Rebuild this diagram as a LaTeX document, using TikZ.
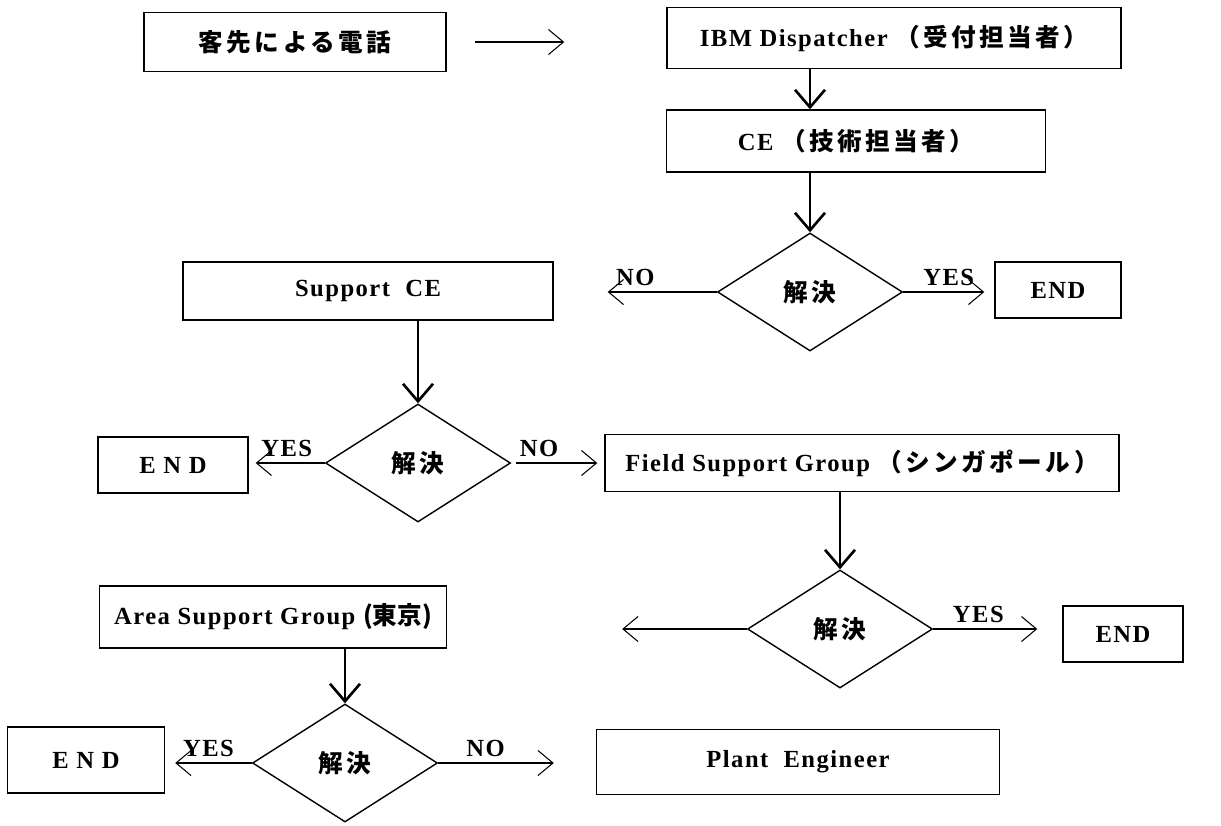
\documentclass[tikz,border=0pt]{standalone}
\usepackage{fontspec}
\setmainfont{Liberation Serif}[LetterSpace=6]
\newfontfamily\jp{Noto Sans CJK JP}[LetterSpace=14]
\usetikzlibrary{arrows.meta,shapes.geometric}

\begin{document}
\begin{tikzpicture}[
  font=\fontsize{14}{17}\selectfont\bfseries,
  box/.style={draw, thick, align=center, inner sep=2pt},
  dec/.style={draw, thick, diamond, minimum width=3.7cm, minimum height=2.36cm, inner sep=0pt},
  flow/.style={-{Straight Barb[length=3.5mm,width=6mm]}, line width=1.5pt},
  side/.style={-{Straight Barb[length=3mm,width=5mm]}, semithick}
]
\fill[white] (0,0) rectangle (24.42,-16.5);

\node[box, minimum width=6.04cm, minimum height=1.18cm] (call) at (5.90,-0.84) {\jp 客先による電話};
\node[box, minimum width=9.08cm, minimum height=1.22cm] (disp) at (17.88,-0.76) {IBM Dispatcher {\jp （受付担当者）}};
\node[box, minimum width=7.58cm, minimum height=1.24cm] (ce) at (17.12,-2.82) {CE {\jp （技術担当者）}};

\node[dec] (d1) at (16.20,-5.84) {\jp 解決};
\node[box, minimum width=2.52cm, minimum height=1.12cm] (end1) at (21.16,-5.80) {END};
\node[box, minimum width=7.40cm, minimum height=1.16cm] (sce) at (7.36,-5.82) {Support~~CE};

\node[dec] (d2) at (8.36,-9.26) {\jp 解決};
\node[box, minimum width=3.00cm, minimum height=1.12cm] (end2) at (3.46,-9.30) {E N D};
\node[box, minimum width=10.28cm, minimum height=1.14cm] (fsg) at (17.24,-9.26) {Field Support Group {\jp （シンガポール）}};

\node[dec] (d3) at (16.80,-12.58) {\jp 解決};
\node[box, minimum width=2.40cm, minimum height=1.12cm] (end3) at (22.46,-12.68) {END};
\node[box, minimum width=6.94cm, minimum height=1.24cm] (asg) at (5.46,-12.34) {Area Support Group {\jp\addfontfeature{LetterSpace=0}(東京)}};

\node[dec] (d4) at (6.90,-15.26) {\jp 解決};
\node[box, minimum width=3.14cm, minimum height=1.32cm] (end4) at (1.72,-15.20) {E N D};
\node[box, minimum width=8.06cm, minimum height=1.30cm] (plant) at (15.96,-15.24) {Plant~~Engineer};

% main flow
\draw[side, shorten <=0.56cm, shorten >=2.04cm] (call.east) -- (call.east -| disp.west);
\draw[flow] (disp.south -| d1.north) -- (ce.north -| d1.north);
\draw[flow] (ce.south -| d1.north) -- (d1.north);
\draw[flow] (sce.south -| d2.north) -- (d2.north);
\draw[flow] (fsg.south -| d3.north) -- (d3.north);
\draw[flow] (asg.south -| d4.north) -- (d4.north);

% branches
\draw[side, shorten >=1.08cm] (d1.west) -- node[above] {NO} (d1.west -| sce.east);
\draw[side, shorten >=0.2cm] (d1.east) -- node[above] {YES} (d1.east -| end1.west);
\draw[side, shorten >=0.14cm] (d2.west) -- node[above] {YES} (d2.west -| end2.east);
\draw[side, shorten <=0.1cm, shorten >=0.14cm] (d2.east) -- node[above, pos=0.3] {NO} (d2.east -| fsg.west);
\draw[side, shorten >=3.5cm] (d3.west) -- (d3.west -| asg.east);
\draw[side, shorten >=0.5cm] (d3.east) -- node[above, pos=0.35] {YES} (d3.east -| end3.west);
\draw[side, shorten >=0.2cm] (d4.west) -- node[above] {YES} (d4.west -| end4.east);
\draw[side, shorten >=0.84cm] (d4.east) -- node[above, pos=0.3] {NO} (d4.east -| plant.west);
\end{tikzpicture}
\end{document}
